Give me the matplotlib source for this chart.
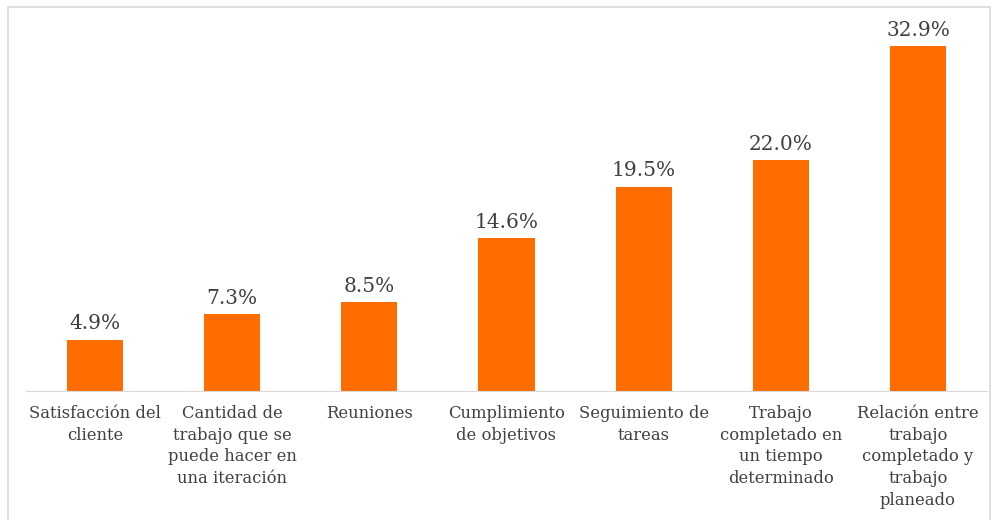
import matplotlib.pyplot as plt
from matplotlib.patches import Rectangle

categorias = [
    "Satisfacción del\ncliente",
    "Cantidad de\ntrabajo que se\npuede hacer en\nuna iteración",
    "Reuniones",
    "Cumplimiento\nde objetivos",
    "Seguimiento de\ntareas",
    "Trabajo\ncompletado en\nun tiempo\ndeterminado",
    "Relación entre\ntrabajo\ncompletado y\ntrabajo\nplaneado",
]
porcentajes = [4.9, 7.3, 8.5, 14.6, 19.5, 22.0, 32.9]

NARANJA = "#ff6d00"
TEXTO = "#404040"

plt.rcParams['font.family'] = ['DejaVu Serif']

fig = plt.figure(figsize=(9.97, 5.2), dpi=100)
ax = fig.add_axes([0.0265, 0.248, 0.963, 0.706])

x = range(len(categorias))
ax.bar(x, porcentajes, width=0.41, color=NARANJA)
for xi, v in zip(x, porcentajes):
    ax.text(xi, v + 0.6, "{:.1f}%".format(v), ha='center', va='bottom',
            fontsize=14.5, color=TEXTO)

ax.set_xlim(-0.5, len(categorias) - 0.5)
ax.set_ylim(0, 35)
ax.set_xticks(list(x))
ax.set_xticklabels(categorias, fontsize=11.8, color=TEXTO, linespacing=1.36)
ax.tick_params(axis='x', length=0, pad=10)
ax.set_yticks([])
for s in ['top', 'right', 'left']:
    ax.spines[s].set_visible(False)
ax.spines['bottom'].set_color('#d9d9d9')

# marco exterior del grafico
fig.patches.append(Rectangle((0.008, -0.01), 0.985, 0.997, transform=fig.transFigure,
                             fill=False, edgecolor='#d9d9d9', linewidth=1.2))

fig.savefig('out.png', dpi=100)
